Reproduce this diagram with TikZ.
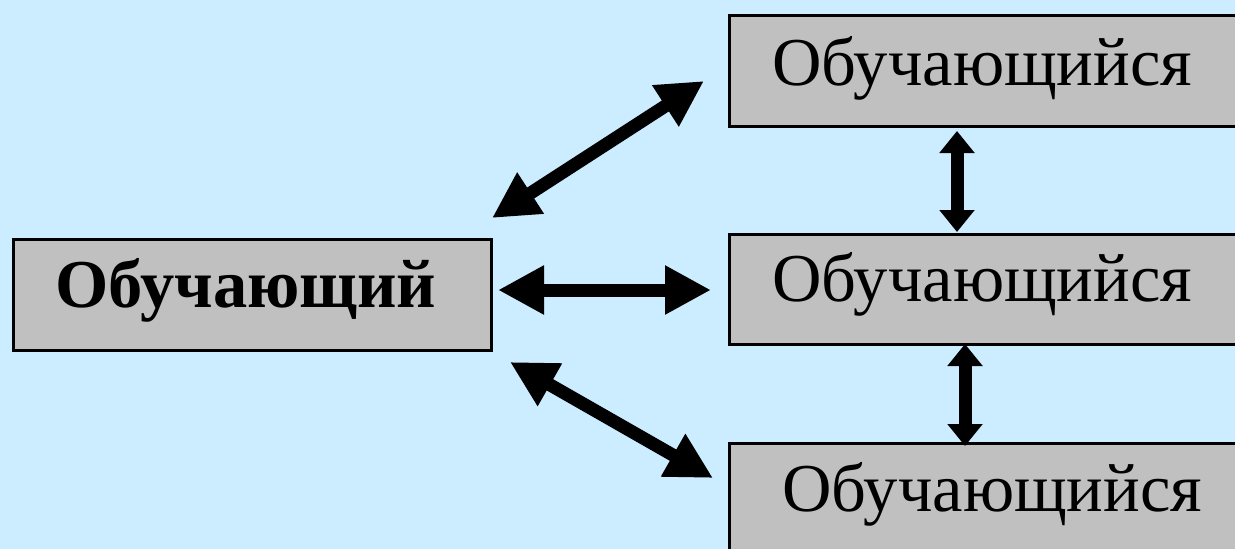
\documentclass[tikz,border=0pt]{standalone}
\usepackage{fontspec}
\setmainfont{Liberation Serif}
\usetikzlibrary{arrows.meta}
\definecolor{bgblue}{RGB}{204,236,255}
\definecolor{boxgray}{RGB}{192,192,192}
\tikzset{
  box/.style={draw=black, line width=3pt, fill=boxgray, rectangle, inner sep=0pt, anchor=north west},
  lbl/.style={inner sep=0pt, anchor=base west, font=\fontsize{68.5}{70}\selectfont},
  bigarrow/.style={line width=13pt, {Triangle[length=46pt,width=46pt]}-{Triangle[length=46pt,width=46pt]}},
  smallarrow/.style={line width=13pt, {Triangle[length=22pt,width=34pt]}-{Triangle[length=22pt,width=34pt]}}
}
\begin{document}
\begin{tikzpicture}[x=1pt,y=-1pt]
\useasboundingbox (0,0) rectangle (1235,549);
\clip (0,0) rectangle (1235,549);
\fill[bgblue] (0,0) rectangle (1235,549);
% boxes
\node[box, minimum width=478pt, minimum height=111pt] (L) at (12,238) {};
\node[box, minimum width=560pt, minimum height=111pt] (T) at (728,14) {};
\node[box, minimum width=560pt, minimum height=110pt] (M) at (728,233) {};
\node[box, minimum width=560pt, minimum height=130pt] (B) at (728,442) {};
% labels
\node[lbl, font=\fontsize{68.5}{70}\selectfont\bfseries] (Lt) at (55,307) {Обучающий};
\node[lbl] (Tt) at (772,85) {Обучающийся};
\node[lbl] (Mt) at (772,301) {Обучающийся};
\node[lbl] (Bt) at (782,511) {Обучающийся};
% arrow ends
\coordinate (a1s) at (492,218);
\coordinate (a1e) at (704,81);
\coordinate (a2s) at (498,290);
\coordinate (a2e) at (711,290);
\coordinate (a3s) at (510,362);
\coordinate (a3e) at (713,478);
\coordinate (a4s) at (957,131);
\coordinate (a4e) at (957,232);
\coordinate (a5s) at (965,344);
\coordinate (a5e) at (965,446);
\draw[bigarrow] (a1s) -- (a1e);
\draw[bigarrow] (a2s) -- (a2e);
\draw[bigarrow] (a3s) -- (a3e);
\draw[smallarrow] (a4s) -- (a4e);
\draw[smallarrow] (a5s) -- (a5e);
\end{tikzpicture}
\end{document}
